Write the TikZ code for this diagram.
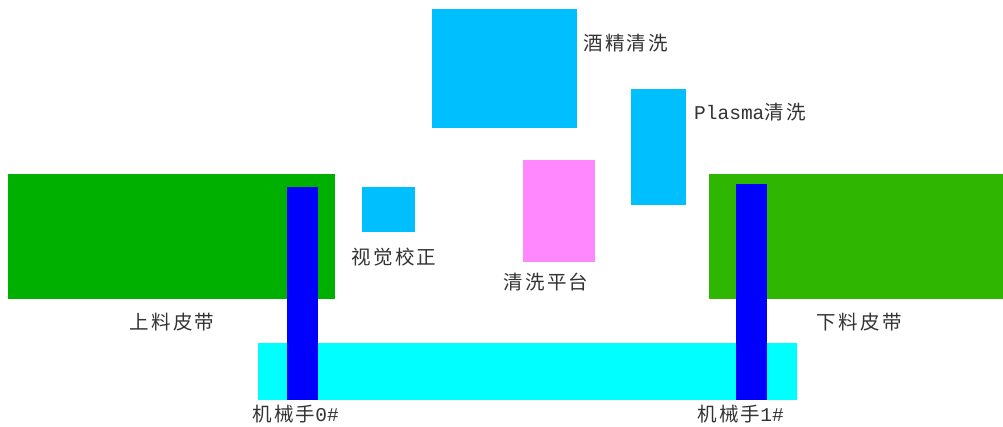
\documentclass[tikz,border=0pt]{standalone}
\usepackage{fontspec}
\newfontfamily\cjk[LetterSpace=12]{Noto Sans CJK SC}
\newfontfamily\lat{Liberation Mono}
\definecolor{greenL}{HTML}{00B000}
\definecolor{greenR}{HTML}{2EB600}
\definecolor{sky}{HTML}{00BFFF}
\definecolor{aqua}{HTML}{00FFFF}
\definecolor{arm}{HTML}{0000FF}
\definecolor{pink}{HTML}{FF88FF}
\definecolor{txt}{HTML}{333333}
\tikzset{
  blk/.style={anchor=north west, inner sep=0pt, outer sep=0pt, draw=none},
  lbl/.style={font=\cjk\fontsize{19.5}{19.5}\selectfont, text=txt, inner sep=0pt}
}
\begin{document}
\begin{tikzpicture}[x=1pt,y=-1pt]
\useasboundingbox[fill=white] (0,0) rectangle (1003,427);
% belts
\node[blk, fill=greenL, minimum width=327pt, minimum height=125pt] (inbelt) at (8,174) {};
\node[blk, fill=greenR, minimum width=294pt, minimum height=125pt] (outbelt) at (709,174) {};
% rail
\node[blk, fill=aqua, minimum width=539pt, minimum height=57pt] (rail) at (258,343) {};
% stations
\node[blk, fill=sky, minimum width=145pt, minimum height=119pt] (alc) at (432,9) {};
\node[blk, fill=sky, minimum width=55pt, minimum height=116pt] (plasma) at (631,89) {};
\node[blk, fill=sky, minimum width=53pt, minimum height=45pt] (vis) at (362,187) {};
\node[blk, fill=pink, minimum width=72pt, minimum height=102pt] (plat) at (523,160) {};
% arms
\node[blk, fill=arm, minimum width=31pt, minimum height=213pt] (arm0) at (287,187) {};
\node[blk, fill=arm, minimum width=31pt, minimum height=216pt] (arm1) at (736,184) {};
% labels
\node[lbl, anchor=west] (lalc) at (583,43) {酒精清洗};
\node[lbl, anchor=west] (lplasma) at (694,112) {{\lat Plasma}清洗};
\node[lbl] (lvis) at (394,257) {视觉校正};
\node[lbl] (lplat) at (546,282) {清洗平台};
\node[lbl] (lin) at (172,322) {上料皮带};
\node[lbl] (lout) at (859,322) {下料皮带};
\node[lbl, anchor=west] (larm0) at (252,414) {机械手{\lat 0\#}};
\node[lbl, anchor=west] (larm1) at (697,414) {机械手{\lat 1\#}};
\end{tikzpicture}
\end{document}
